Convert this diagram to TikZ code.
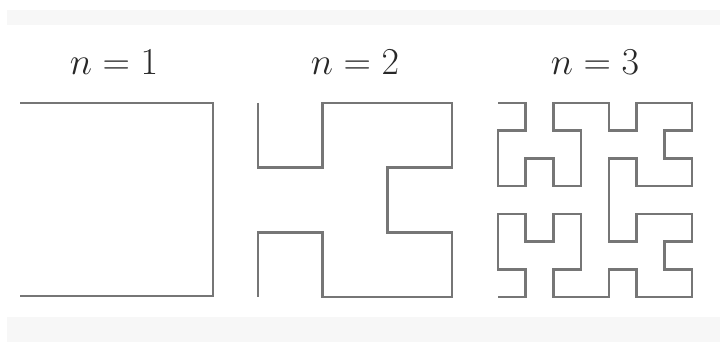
\documentclass[tikz,border=0pt]{standalone}
\usepackage{fix-cm}
\begin{document}
\begin{tikzpicture}[x=1pt,y=-1pt,
  curve/.style={draw={rgb,255:red,118;green,118;blue,118},line width=2.6pt,line join=miter},
  band/.style={fill={rgb,255:red,247;green,247;blue,247},draw=none},
  lbl/.style={font=\fontsize{38}{42}\selectfont,text={rgb,255:red,40;green,40;blue,40},inner sep=0pt,anchor=base}]
\useasboundingbox (0,0) rectangle (720,342);
\fill[white] (0,0) rectangle (720,342);
\fill[band] (7,10) rectangle (720,25);
\fill[band] (7,317) rectangle (720,342);
\node[lbl] (l1) at (114,75) {$n=1$};
\node[lbl] (l2) at (355,75) {$n=2$};
\node[lbl] (l3) at (595,75) {$n=3$};
\begin{scope}[xshift=20pt,yshift=-103pt,x=193pt,y=-193pt]
\draw[curve] (0,0)--(1,0)--(1,1)--(0,1);
\end{scope}
\begin{scope}[xshift=258pt,yshift=-103pt,x=64.67pt,y=-64.67pt]
\draw[curve] (0,0)--(0,1)--(1,1)--(1,0)--(3,0)--(3,1)--(2,1)--(2,2)--(3,2)--(3,3)--(1,3)--(1,2)--(0,2)--(0,3);
\end{scope}
\begin{scope}[xshift=498pt,yshift=-103pt,x=27.71pt,y=-27.71pt]
\draw[curve] (0,0)--(1,0)--(1,1)--(0,1)--(0,3)--(1,3)--(1,2)--(2,2)--(2,3)--(3,3)--(3,1)--(2,1)--(2,0)--(4,0)--(4,1)--(5,1)--(5,0)--(7,0)--(7,1)--(6,1)--(6,2)--(7,2)--(7,3)--(5,3)--(5,2)--(4,2)--(4,5)--(5,5)--(5,4)--(7,4)--(7,5)--(6,5)--(6,6)--(7,6)--(7,7)--(5,7)--(5,6)--(4,6)--(4,7)--(2,7)--(2,6)--(3,6)--(3,4)--(2,4)--(2,5)--(1,5)--(1,4)--(0,4)--(0,6)--(1,6)--(1,7)--(0,7);
\end{scope}
\end{tikzpicture}
\end{document}
